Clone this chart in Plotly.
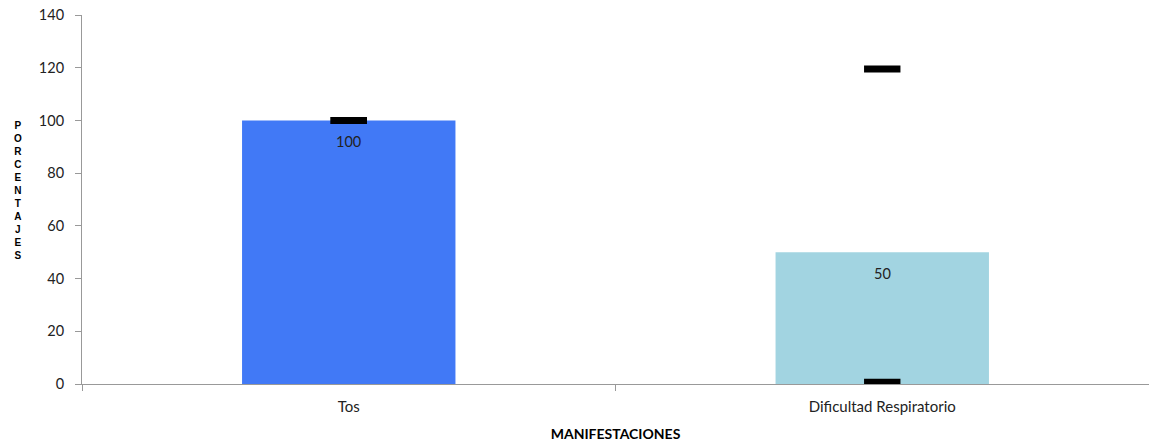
import plotly.graph_objects as go

categories = ["Tos", "Dificultad Respiratorio"]
values = [100, 50]
err_plus = [0, 69.5]
err_minus = [0, 49.3]
bar_colors = ["#4179F6", "#A2D4E1"]
y_ticks = [0, 20, 40, 60, 80, 100, 120, 140]
y_title = "PORCENTAJES"

fig = go.Figure()
fig.add_trace(go.Bar(
    x=categories, y=values, width=0.4,
    marker=dict(color=bar_colors, line=dict(width=0)),
    showlegend=False, hoverinfo="skip",
))

upper = [v + e for v, e in zip(values, err_plus)]
lower = [v - e for v, e in zip(values, err_minus)]
fig.add_trace(go.Scatter(
    x=categories + categories, y=upper + lower, mode="markers",
    marker=dict(symbol="line-ew", size=26, line=dict(width=7, color="black")),
    showlegend=False, hoverinfo="skip",
))

for c, v in zip(categories, values):
    fig.add_annotation(x=c, y=v, text=str(v), showarrow=False, yshift=-21,
                       font=dict(size=14.5, color="#222", family="Lato"))

# stacked vertical title (one text, one letter per line)
fig.add_annotation(xref="paper", yref="paper", x=-0.0596, y=0.524,
                   xanchor="center", yanchor="middle", align="center",
                   text="<b>" + "<br>".join(list(y_title)) + "</b>", showarrow=False,
                   font=dict(size=10, family="Liberation Sans", color="black"))

fig.update_layout(
    width=1149, height=443,
    margin=dict(l=82, r=0, t=15, b=59),
    plot_bgcolor="white", paper_bgcolor="white",
    font=dict(family="Lato", size=14, color="#222"),
    xaxis=dict(
        automargin=False,
        showline=True, linecolor="#999", linewidth=1,
        ticks="outside", tickson="boundaries", ticklen=6, tickcolor="#999",
        showgrid=False, range=[-0.5, 1.5], ticklabelstandoff=9,
        tickfont=dict(size=15, family="Lato", color="#222"),
        title=dict(text="<b>MANIFESTACIONES</b>", font=dict(size=14, family="Lato", color="black"), standoff=15),
    ),
    yaxis=dict(
        automargin=False, ticklabeloverflow="allow",
        range=[0, 140], tickvals=y_ticks, showline=True, linecolor="#999", linewidth=1,
        ticks="outside", ticklen=6, tickcolor="#999", showgrid=False, zeroline=False,
        tickfont=dict(size=14.5, family="Lato", color="#222"), ticklabelstandoff=8,
    ),
)

fig.write_html("out.html", config={"displayModeBar": False},
               post_script="document.body.style.margin='0px';")
